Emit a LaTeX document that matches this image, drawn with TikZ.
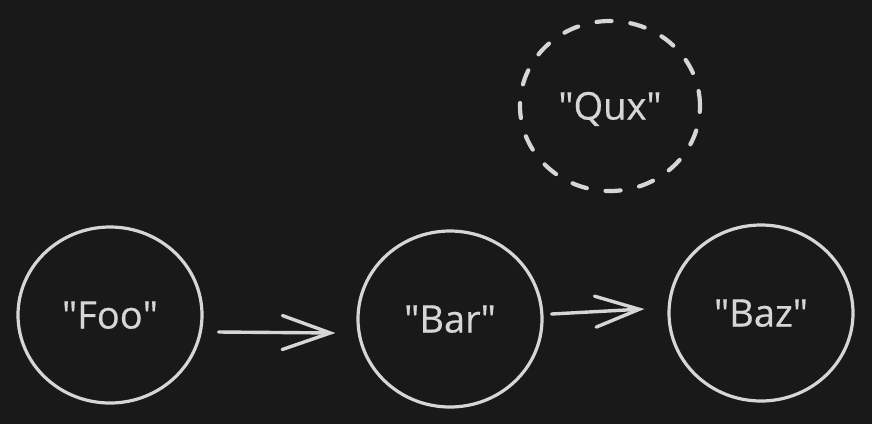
\documentclass[tikz,border=0pt]{standalone}
\usepackage{fontspec}
\setmainfont{Open Sans}
\newfontfamily\labelfont{Open Sans}[FakeBold=0.5]
\usetikzlibrary{shapes.geometric,arrows.meta}
\definecolor{bg}{HTML}{191919}
\definecolor{ink}{HTML}{D6D6D6}
\newcommand{\q}{\textquotedbl}
\tikzset{
  bubble/.style={ellipse, draw=ink, line width=3.2pt, minimum width=184pt, minimum height=176pt,
    inner sep=0pt, text=ink, font=\labelfont\fontsize{38}{40}\selectfont, text height=27pt, text depth=0pt},
  ghost/.style={bubble, line width=4.2pt, dash pattern=on 15pt off 19pt, line cap=round},
  link/.style={draw=ink, line width=3.4pt, line cap=round, line join=round,
    -{Straight Barb[length=48pt,width=34pt,line cap=round]}}
}
\begin{document}
\begin{tikzpicture}[x=1pt,y=-1pt]
\fill[bg] (0,0) rectangle (872,424);
\useasboundingbox (0,0) rectangle (872,424);
\node[bubble] (Foo) at (110,315) {\q Foo\q};
\node[bubble] (Bar) at (450,319) {\q Bar\q};
\node[bubble] (Baz) at (761,313) {\q Baz\q};
\node[ghost, minimum width=180pt, minimum height=170pt] (Qux) at (610,106) {\q Qux\q};
\draw[link] ([xshift=15pt,yshift=-17pt]Foo.east) -- ([xshift=-21pt,yshift=-14pt]Bar.west);
\draw[link, -{Straight Barb[length=44pt,width=31pt,line cap=round]}] ([xshift=8pt,yshift=5pt]Bar.east) -- ([xshift=-23pt,yshift=4pt]Baz.west);
\end{tikzpicture}
\end{document}
